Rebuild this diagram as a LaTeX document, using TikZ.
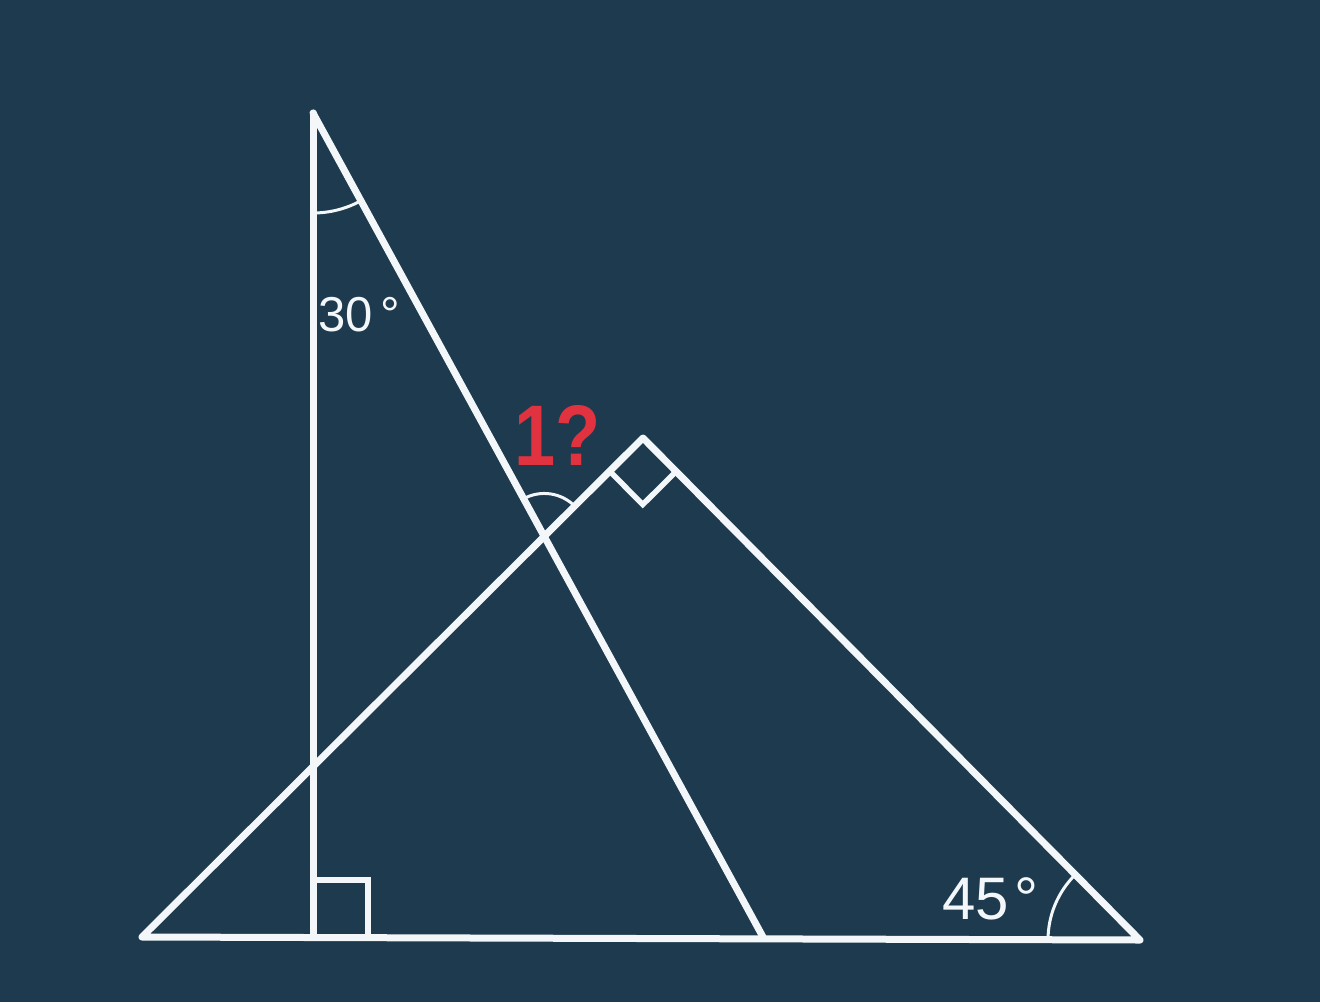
\documentclass[tikz,border=0pt]{standalone}
\usepackage{fontspec}
\setmainfont{Liberation Sans}
\usetikzlibrary{calc}
\definecolor{bg}{HTML}{1D3A4E}
\definecolor{chalk}{HTML}{F3F7F9}
\definecolor{qred}{HTML}{E0323F}
\begin{document}
\begin{tikzpicture}[x=1pt,y=-1pt,
  edge/.style={chalk,line width=7pt,line join=round,line cap=round},
  rightmark/.style={chalk,line width=5.5pt,line join=miter},
  anglearc/.style={chalk,line width=3pt},
  lbl/.style={text=chalk,inner sep=0pt,anchor=west},
  qlbl/.style={text=qred,inner sep=0pt,anchor=west}]
\fill[bg] (0,0) rectangle (1320,1002);
\useasboundingbox (0,0) rectangle (1320,1002);
% vertices
\coordinate (A) at (313,113);
\coordinate (C) at (313,937);
\coordinate (D) at (763,937);
\coordinate (L) at (142,937);
\coordinate (R) at (1140,940);
\coordinate (P) at (643,438);
\coordinate (X) at (intersection of A--D and L--P);
% right angle marks
\draw[rightmark] ($(C)+(0,-57)$) -- ($(C)+(55,-57)$) -- ($(C)+(55,0)$);
\coordinate (P1) at ($(P)!47pt!(L)$);
\coordinate (P2) at ($(P)!47pt!(R)$);
\draw[rightmark] (P1) -- ($(P1)+(P2)-(P)$) -- (P2);
% angle arcs
\draw[anglearc] ($(A)+(61.4:100)$) arc[start angle=61.4,end angle=90,radius=100];
\draw[anglearc] ($(X)+(241.4:43)$) arc[start angle=241.4,end angle=315.3,radius=43];
\draw[anglearc] ($(R)+(180.2:92)$) arc[start angle=180.2,end angle=225.3,radius=92];
% lines
\draw[edge] (L) -- (P) -- (R) -- cycle;
\draw[edge] (A) -- (C);
\draw[edge] (A) -- (D);
% labels
\node[lbl,font=\fontsize{49}{56}\selectfont] (l30) at (318,315) {30\kern8pt°};
\node[lbl,font=\fontsize{60}{68}\selectfont] (l45) at (942,899) {45\kern6pt°};
\node[qlbl,font=\fontsize{86}{96}\selectfont\bfseries] (lq) at (514,435) {\scalebox{0.86}[1]{1?}};
\end{tikzpicture}
\end{document}
